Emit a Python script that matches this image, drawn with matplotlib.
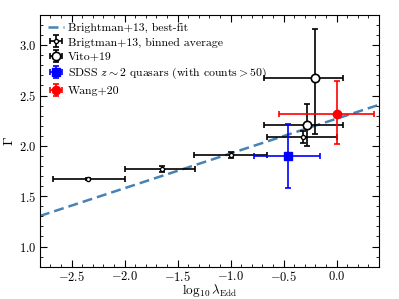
import numpy as np
import matplotlib
matplotlib.use("Agg")
import matplotlib.pyplot as plt

plt.rcParams['font.family'] = 'serif'
plt.rcParams['font.serif'] = ['cmr10']
plt.rcParams['mathtext.fontset'] = 'cm'
plt.rcParams['axes.formatter.use_mathtext'] = True

# Brightman+13 best-fit line
fit_slope = 0.345
fit_intercept = 2.27

# Brightman+13 binned average
b13_x = [-2.35, -1.65, -1.0, -0.32]
b13_y = [1.67, 1.77, 1.91, 2.09]
b13_xlo = [-2.68, -2.0, -1.35, -0.66]
b13_xhi = [-2.0, -1.34, -0.66, 0.0]
b13_ylo = [1.66, 1.74, 1.88, 2.03]
b13_yhi = [1.68, 1.80, 1.94, 2.15]

# Vito+19
v19_x = [-0.28, -0.2]
v19_y = [2.21, 2.67]
v19_xlo = [-0.69, -0.69]
v19_xhi = [0.06, 0.06]
v19_ylo = [2.0, 2.12]
v19_yhi = [2.42, 3.16]

# SDSS z~2
sdss_x = [-0.46]
sdss_y = [1.90]
sdss_xlo = [-0.78]
sdss_xhi = [-0.16]
sdss_ylo = [1.58]
sdss_yhi = [2.22]

# Wang+20
w20_x = [0.0]
w20_y = [2.32]
w20_xlo = [-0.54]
w20_xhi = [0.35]
w20_ylo = [2.02]
w20_yhi = [2.64]

def errs(v, lo, hi):
    v = np.array(v); return np.array([v - np.array(lo), np.array(hi) - v])

fig = plt.figure(figsize=(3.99, 2.99), dpi=100)
ax = fig.add_axes([0.1, 0.108, 0.85, 0.842])

xl = np.linspace(-2.8, 0.4, 50)
ax.plot(xl, fit_slope * xl + fit_intercept, ls='--', color='#4682b4', lw=1.8,
        dashes=(4, 2), label='Brightman+13, best-fit', zorder=1)

ax.errorbar(b13_x, b13_y, xerr=errs(b13_x, b13_xlo, b13_xhi), yerr=errs(b13_y, b13_ylo, b13_yhi),
            fmt='o', ms=3, mfc='white', mec='black', color='black', ecolor='black', elinewidth=1.2,
            capsize=2.5, capthick=1.2, label='Brigtman+13, binned average', zorder=3)
ax.errorbar(v19_x, v19_y, xerr=errs(v19_x, v19_xlo, v19_xhi), yerr=errs(v19_y, v19_ylo, v19_yhi),
            fmt='o', ms=6, mfc='white', mec='black', mew=1.2, color='black', ecolor='black', elinewidth=1.2,
            capsize=2.5, capthick=1.2, label='Vito+19', zorder=3)
ax.errorbar(sdss_x, sdss_y, xerr=errs(sdss_x, sdss_xlo, sdss_xhi), yerr=errs(sdss_y, sdss_ylo, sdss_yhi),
            fmt='s', ms=6, color='blue', ecolor='blue', elinewidth=1.2,
            capsize=2.5, capthick=1.2, label=r'SDSS $z\sim2$ quasars (with counts$>$50)', zorder=3)
ax.errorbar(w20_x, w20_y, xerr=errs(w20_x, w20_xlo, w20_xhi), yerr=errs(w20_y, w20_ylo, w20_yhi),
            fmt='o', ms=6, color='red', ecolor='red', elinewidth=1.2,
            capsize=2.5, capthick=1.2, label='Wang+20', zorder=3)

ax.set_xlim(-2.8, 0.4)
ax.set_ylim(0.8, 3.3)
ax.set_xticks([-2.5, -2.0, -1.5, -1.0, -0.5, 0.0])
ax.set_yticks([1.0, 1.5, 2.0, 2.5, 3.0])
ax.minorticks_on()
ax.tick_params(which='both', direction='in', top=True, right=True, labelsize=9, pad=2.5)
ax.tick_params(which='major', length=5)
ax.tick_params(which='minor', length=2.5)
ax.set_xlabel(r'$\log_{10}\lambda_{\rm Edd}$', fontsize=9.5, labelpad=-1.5)
ax.set_ylabel(r'$\Gamma$', fontsize=10, labelpad=2)
ax.legend(loc='upper left', frameon=False, fontsize=8.5, handlelength=1.4, handletextpad=0.3,
          labelspacing=0.35, borderaxespad=0.25)

fig.savefig('out.png', dpi=100)
